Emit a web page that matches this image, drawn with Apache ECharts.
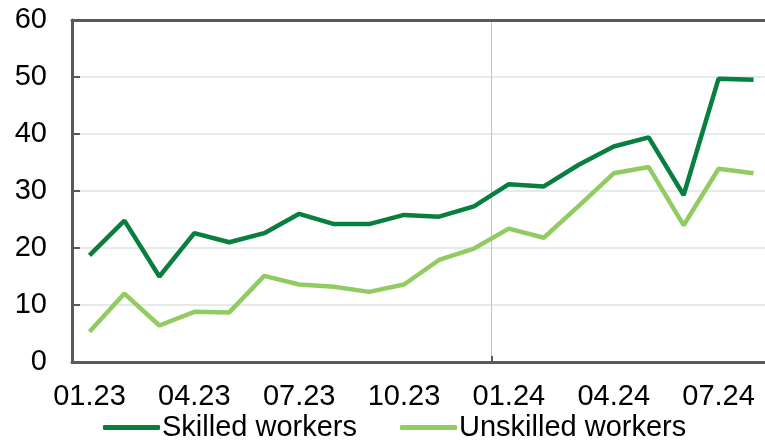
<!DOCTYPE html>
<html><head><meta charset="utf-8">
<script src="https://cdn.jsdelivr.net/npm/echarts@6/dist/echarts.min.js"></script>
<style>html,body{margin:0;padding:0;background:#fff;overflow:hidden}#c{width:780px;height:446px}</style>
</head><body><div id="c"></div>
<script>
var categories = ['01.23','02.23','03.23','04.23','05.23','06.23','07.23','08.23','09.23','10.23','11.23','12.23','01.24','02.24','03.24','04.24','05.24','06.24','07.24','08.24'];
var skilled = [18.7,24.8,15.0,22.6,21.0,22.6,26.0,24.2,24.2,25.8,25.5,27.3,31.2,30.8,34.6,37.8,39.4,29.3,49.7,49.5];
var unskilled = [5.3,12.0,6.4,8.8,8.7,15.1,13.6,13.2,12.3,13.6,17.9,19.9,23.4,21.8,27.4,33.1,34.2,24.0,33.9,33.1];
var yTicks = [0,10,20,30,40,50,60];
var yearBreakIndex = 12; // boundary before 01.24

var font = 'Liberation Sans, Arial, sans-serif';
var chart = echarts.init(document.getElementById('c'), null, {renderer:'canvas'});
chart.setOption({
  animation:false,
  grid:{left:72, width:699, top:20, bottom:84, containLabel:false},
  legend:{
    bottom:-1, left:98, itemWidth:57, itemHeight:5, itemGap:43,
    textStyle:{fontFamily:font, fontSize:29, color:'#000', padding:[0,0,0,-3]},
    data:[{name:'Skilled workers', icon:'roundRect'},{name:'Unskilled workers', icon:'roundRect'}]
  },
  xAxis:[{
    type:'category', data:categories, boundaryGap:true,
    axisLine:{lineStyle:{color:'#595959', width:3}},
    axisTick:{show:false},
    splitLine:{show:false},
    axisLabel:{interval:2, fontFamily:font, fontSize:29, color:'#000', margin:20}
  },{
    type:'category', position:'top', data:categories, boundaryGap:true,
    axisLine:{show:true, lineStyle:{color:'#595959', width:3}},
    axisTick:{show:false}, axisLabel:{show:false}, splitLine:{show:false}
  },{
    type:'value', position:'bottom', min:0, max:categories.length, interval:yearBreakIndex,
    axisLine:{show:false}, axisLabel:{show:false},
    axisTick:{show:true, inside:true, length:6, lineStyle:{color:'#595959', width:2}},
    splitLine:{show:true, lineStyle:{color:'#c4c4c4', width:1}}
  }],
  yAxis:{
    type:'value', min:yTicks[0], max:yTicks[yTicks.length-1], interval:10,
    axisLine:{show:true, lineStyle:{color:'#595959', width:3}},
    axisTick:{show:true, inside:true, length:8, lineStyle:{color:'#595959', width:2}},
    splitLine:{show:true, lineStyle:{color:'#dde3e3', width:1.5}},
    axisLabel:{fontFamily:font, fontSize:29, color:'#000', margin:25}
  },
  series:[
    {name:'Skilled workers', type:'line', xAxisIndex:0, data:skilled, showSymbol:false, symbol:'none', lineStyle:{color:'#087f3f', width:4.5}, itemStyle:{color:'#087f3f'}},
    {name:'Unskilled workers', type:'line', xAxisIndex:0, data:unskilled, showSymbol:false, symbol:'none', lineStyle:{color:'#92cb62', width:4.5}, itemStyle:{color:'#92cb62'}}
  ]
});
</script></body></html>
